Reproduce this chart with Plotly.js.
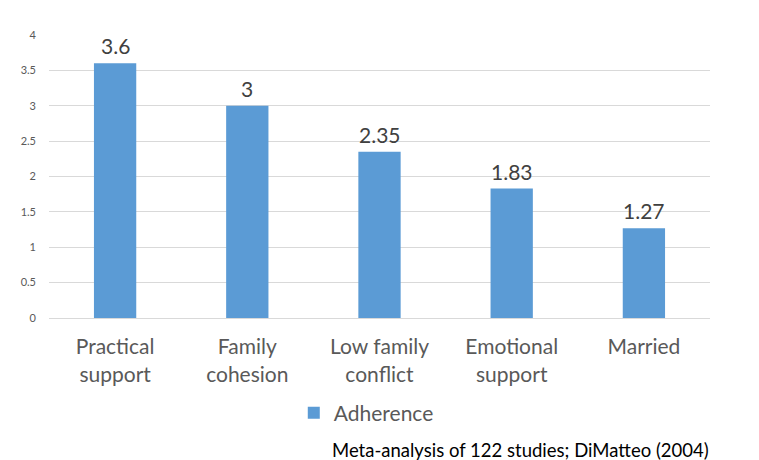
<!DOCTYPE html>
<html>
<head>
<meta charset="utf-8">
<script src="https://cdn.plot.ly/plotly-3.0.1.min.js"></script>
<style>html,body{margin:0;padding:0;background:#fff;}#chart{width:759px;height:460px;}</style>
</head>
<body>
<div id="chart"></div>
<script>
const categories = ["Practical<br>support", "Family<br>cohesion", "Low family<br>conflict", "Emotional<br>support", "Married"];
const adherence = [3.6, 3, 2.35, 1.83, 1.27];
const valueLabels = ["3.6", "3", "2.35", "1.83", "1.27"];
const seriesName = "Adherence";
const yTicks = [0, 0.5, 1, 1.5, 2, 2.5, 3, 3.5, 4];
const footnote = "Meta-analysis of 122 studies; DiMatteo (2004)";

const FONT = "Lato, 'Open Sans', sans-serif";

const trace = {
  type: "bar",
  x: categories,
  y: adherence,
  name: seriesName,
  marker: {color: "#5B9BD5"},
  hoverinfo: "skip"
};

const labelAnnotations = categories.map((c, i) => ({
  x: c,
  y: adherence[i],
  xref: "x",
  yref: "y",
  text: valueLabels[i],
  showarrow: false,
  yanchor: "bottom",
  yshift: 3,
  font: {family: FONT, size: 21, color: "#404040"}
}));

const layout = {
  width: 759,
  height: 460,
  margin: {l: 49, r: 49, t: 35, b: 142},
  paper_bgcolor: "#ffffff",
  plot_bgcolor: "#ffffff",
  bargap: 0.68,
  font: {family: FONT, color: "#595959"},
  xaxis: {
    type: "category",
    showgrid: false,
    showline: true,
    linecolor: "#d9d9d9",
    linewidth: 1,
    ticks: "",
    ticklabelstandoff: 10,
    tickfont: {family: FONT, size: 21, color: "#595959"},
    fixedrange: true
  },
  yaxis: {
    range: [0, 4],
    tickvals: yTicks,
    ticktext: yTicks.map(String),
    showgrid: true,
    gridcolor: "#d9d9d9",
    gridwidth: 1,
    zeroline: false,
    showline: false,
    ticks: "",
    ticklabelstandoff: 12,
    tickfont: {family: FONT, size: 11, color: "#595959"},
    fixedrange: true
  },
  showlegend: true,
  legend: {
    orientation: "h",
    x: 0.48,
    xanchor: "center",
    y: -0.336,
    yanchor: "middle",
    font: {family: FONT, size: 21, color: "#595959"},
    itemwidth: 30
  },
  annotations: labelAnnotations.concat([{
    text: footnote,
    xref: "paper",
    yref: "paper",
    x: 0.425,
    xanchor: "left",
    y: (318 - 450) / 283,
    yanchor: "middle",
    showarrow: false,
    font: {family: FONT, size: 18.5, color: "#000000"}
  }])
};

Plotly.newPlot("chart", [trace], layout, {displayModeBar: false, staticPlot: true});
</script>
</body>
</html>
